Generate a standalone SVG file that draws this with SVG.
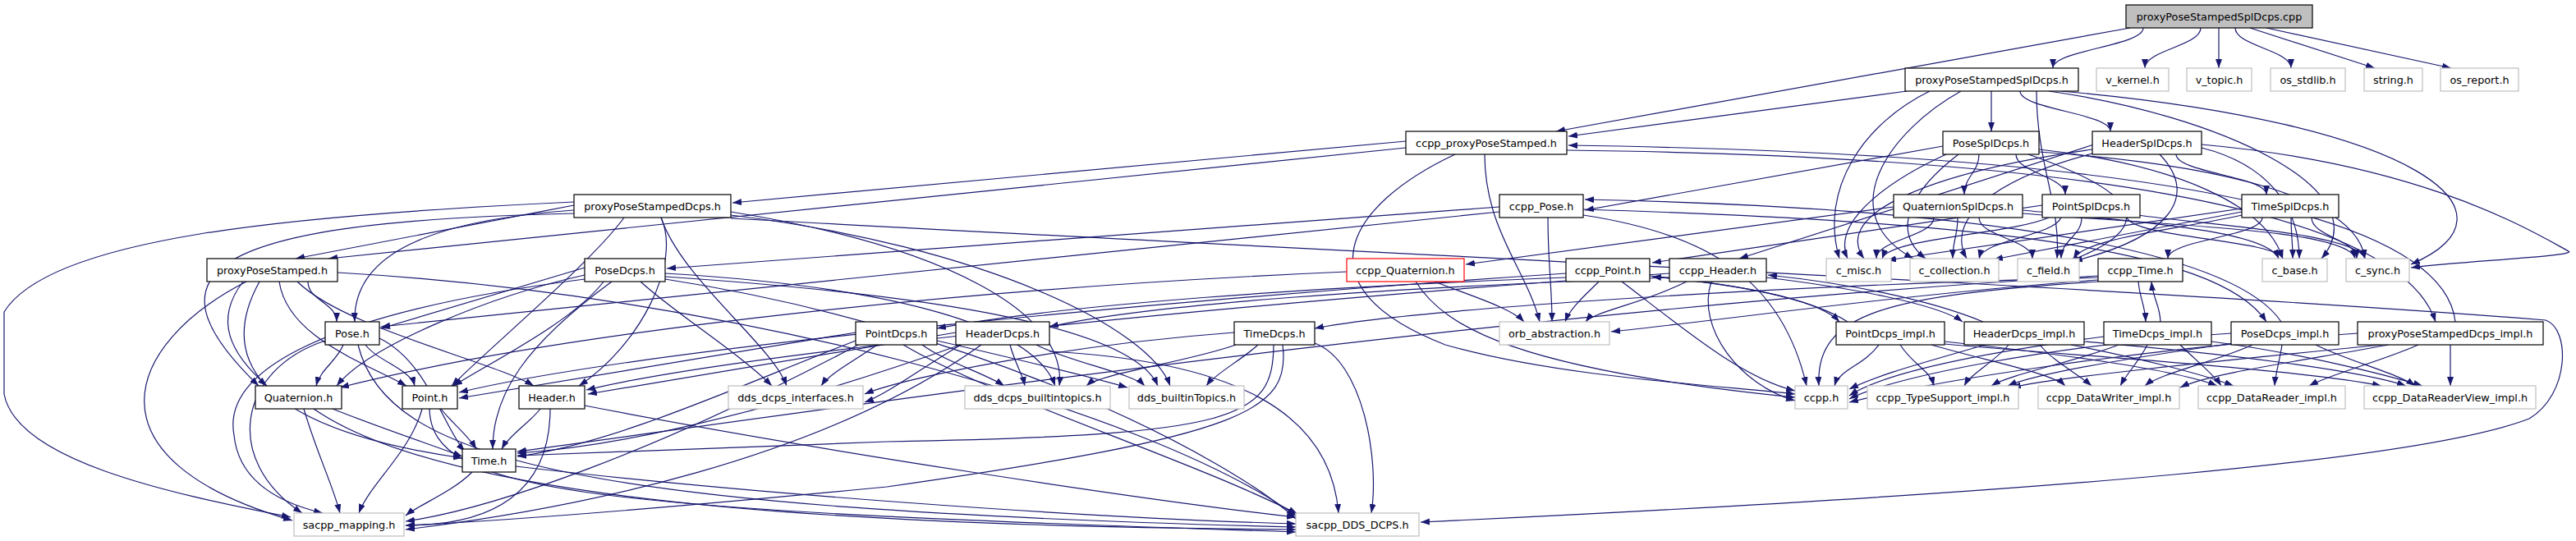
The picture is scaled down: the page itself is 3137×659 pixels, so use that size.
<svg xmlns="http://www.w3.org/2000/svg" width="3137" height="659" viewBox="0 0 3137 659">
<style>
rect{fill:#fff;stroke:#000;stroke-width:1.2}
.u rect{stroke:#bfbfbf}
.r rect{stroke:#f00}
.root rect{fill:#bfbfbf}
text{font-family:"DejaVu Sans","Liberation Sans",sans-serif;font-size:12.8px;text-anchor:middle;fill:#000}
#edges path{fill:none;stroke:#191970;stroke-width:1.2;marker-end:url(#a)}
</style>
<defs>
<marker id="a" viewBox="0 0 11 8" refX="11" refY="4" markerWidth="11" markerHeight="8" markerUnits="userSpaceOnUse" orient="auto"><path d="M0,0L11,4L0,8z" fill="#191970"/></marker>
</defs>
<rect x="0" y="0" width="3137" height="659" style="fill:#fff;stroke:none"/>
<g id="edges">
<path d="M2610 34C2610 56 2500 61 2500 83"/>
<path d="M2594 34L1895 160"/>
<path d="M2680 34C2680 56 2612 61 2612 83"/>
<path d="M2702 34L2702 83"/>
<path d="M2722 34C2722 56 2790 61 2790 83"/>
<path d="M2740 34L2892 83"/>
<path d="M2760 34L2985 83"/>
<path d="M2322 111L1910 166"/>
<path d="M2350 111C2270 150 2215 230 2240 315"/>
<path d="M2388 111C2300 160 2230 260 2330 315"/>
<path d="M2425 111L2425 160"/>
<path d="M2460 111C2460 133 2570 138 2570 160"/>
<path d="M2495 111C2700 140 2900 230 2827 315"/>
<path d="M2510 111C2950 150 3080 260 2936 322"/>
<path d="M2480 111C2480 200 2510 250 2505 315"/>
<path d="M2366 178L1930 256"/>
<path d="M2410 188C2410 210 2392 215 2392 237"/>
<path d="M2455 188C2455 210 2515 215 2515 237"/>
<path d="M2370 188C2300 220 2230 270 2250 315"/>
<path d="M2385 188C2330 230 2300 280 2345 315"/>
<path d="M2470 188C2620 240 2620 280 2520 318"/>
<path d="M2483 182C2650 200 2760 250 2780 315"/>
<path d="M2483 185C2700 200 2870 240 2880 315"/>
<path d="M2550 176L2118 315"/>
<path d="M2650 188C2650 210 2760 215 2760 237"/>
<path d="M2548 182C2350 210 2230 260 2270 315"/>
<path d="M2552 186C2420 220 2370 270 2395 315"/>
<path d="M2630 188C2680 240 2640 290 2525 318"/>
<path d="M2681 180C2760 200 2800 250 2800 315"/>
<path d="M2681 176C2950 200 3080 280 3128 306C3140 312 3000 318 2936 326"/>
<path d="M2306 252L1785 322"/>
<path d="M2355 265C2355 288 2285 292 2285 315"/>
<path d="M2384 265C2384 288 2378 292 2378 315"/>
<path d="M2410 265C2410 288 2475 292 2475 315"/>
<path d="M2463 256C2600 270 2760 280 2775 315"/>
<path d="M2463 260C2650 275 2860 280 2868 315"/>
<path d="M2487 250L2012 320"/>
<path d="M2495 265C2450 285 2300 290 2292 315"/>
<path d="M2510 265C2500 288 2415 292 2410 315"/>
<path d="M2535 265C2535 288 2510 292 2510 315"/>
<path d="M2590 265C2600 290 2770 292 2780 315"/>
<path d="M2603 262C2700 275 2870 285 2880 315"/>
<path d="M2755 265C2755 288 2640 292 2640 315"/>
<path d="M2790 265C2790 288 2792 292 2792 315"/>
<path d="M2815 265C2815 288 2870 292 2870 315"/>
<path d="M2730 254L2298 317"/>
<path d="M2730 258L2428 316"/>
<path d="M2730 262C2650 280 2540 290 2525 315"/>
<path d="M1712 172L892 247"/>
<path d="M1712 180L400 315"/>
<path d="M1808 188C1808 280 1860 330 1875 392"/>
<path d="M1772 188C1640 250 1580 350 1760 420C1900 460 2100 470 2186 480"/>
<path d="M1908 183C2500 190 2920 250 2966 392"/>
<path d="M2990 392C2980 300 2800 190 1910 177"/>
<path d="M1826 252L812 327"/>
<path d="M1826 258L464 398"/>
<path d="M1885 265C1885 320 1890 350 1890 392"/>
<path d="M1928 262C2080 285 2170 340 2200 470"/>
<path d="M1928 255C2400 270 2700 300 2760 392"/>
<path d="M2778 392C2730 320 2500 255 1930 243"/>
<path d="M375 343C375 366 410 369 410 392"/>
<path d="M296 343C260 390 280 430 325 470"/>
<path d="M340 343C350 410 440 440 495 470"/>
<path d="M362 343C420 400 600 440 650 470"/>
<path d="M316 343C268 430 300 520 563 558"/>
<path d="M300 343C150 420 100 560 356 634"/>
<path d="M411 332C900 360 1400 500 1578 628"/>
<path d="M699 250L360 315"/>
<path d="M699 256C500 270 430 320 432 392"/>
<path d="M699 260C250 270 170 330 315 470"/>
<path d="M760 265C720 320 600 420 550 470"/>
<path d="M805 265C830 320 780 420 705 470"/>
<path d="M805 265C830 340 940 420 958 470"/>
<path d="M890 258C1150 300 1300 380 1290 470"/>
<path d="M890 262C1200 300 1400 400 1425 470"/>
<path d="M699 246C350 262 60 290 5 380L5 480C20 560 200 600 354 630"/>
<path d="M890 266C1500 300 2600 350 3100 390C3130 400 3130 480 3080 510C2950 560 2500 600 1730 636"/>
<path d="M712 326L464 400"/>
<path d="M712 335C600 360 450 420 410 470"/>
<path d="M735 343C700 390 600 440 552 470"/>
<path d="M745 343C640 420 600 480 600 547"/>
<path d="M780 343C820 380 900 430 940 470"/>
<path d="M810 333C1100 350 1260 400 1285 470"/>
<path d="M810 337C1150 360 1380 400 1410 470"/>
<path d="M712 340C400 380 270 450 285 530C290 580 330 610 393 625"/>
<path d="M810 340C1200 400 1500 560 1578 632"/>
<path d="M418 420C410 440 390 450 385 470"/>
<path d="M445 420C460 440 500 450 505 470"/>
<path d="M462 412C520 440 540 520 566 550"/>
<path d="M396 415C290 450 270 560 368 625"/>
<path d="M436 420C470 560 700 620 1578 642"/>
<path d="M370 498C385 550 405 590 414 625"/>
<path d="M405 498C460 520 520 540 563 556"/>
<path d="M382 498C500 580 800 640 1578 645"/>
<path d="M514 498C500 550 450 590 437 625"/>
<path d="M537 498C550 515 570 530 580 547"/>
<path d="M523 498C525 600 700 620 1578 648"/>
<path d="M658 498C645 515 620 530 611 547"/>
<path d="M670 498C670 600 600 640 494 640"/>
<path d="M712 494C1000 550 1400 610 1578 630"/>
<path d="M575 575C550 600 510 615 494 628"/>
<path d="M628 568C900 600 1300 630 1578 638"/>
<path d="M1042 405L559 485"/>
<path d="M1042 415C900 470 750 540 630 556"/>
<path d="M1068 420C1040 440 1010 455 1000 470"/>
<path d="M1123 420C1150 440 1200 455 1223 470"/>
<path d="M1141 415C1250 440 1330 460 1373 472"/>
<path d="M1045 420C800 550 600 620 494 635"/>
<path d="M1100 420C1200 480 1450 560 1580 626"/>
<path d="M1164 405L716 480"/>
<path d="M1170 420C1000 480 800 540 630 552"/>
<path d="M1170 420C1120 450 1080 480 1053 490"/>
<path d="M1230 420C1235 440 1245 455 1248 470"/>
<path d="M1262 420C1300 440 1380 455 1394 470"/>
<path d="M1195 420C1000 560 700 620 494 645"/>
<path d="M1278 428C1500 440 1620 500 1630 625"/>
<path d="M1551 420C1550 510 1510 530 1080 538C900 545 700 552 630 555"/>
<path d="M1503 405C1300 420 1100 460 1053 480"/>
<path d="M1505 420C1450 440 1340 455 1323 470"/>
<path d="M1532 420C1510 440 1480 455 1469 470"/>
<path d="M1562 420C1572 500 1520 530 1080 593C800 620 600 635 494 640"/>
<path d="M1601 418C1660 440 1680 560 1670 625"/>
<path d="M1747 343C1790 360 1840 375 1856 392"/>
<path d="M1724 343C1760 400 1850 450 2186 484"/>
<path d="M1640 331C1200 350 700 400 414 472"/>
<path d="M1947 343C1930 360 1912 375 1906 392"/>
<path d="M1975 343C2050 400 2120 460 2186 476"/>
<path d="M1907 333C1500 360 800 420 559 478"/>
<path d="M1907 338C1600 350 1300 370 1141 400"/>
<path d="M2009 336C2150 350 2220 370 2240 392"/>
<path d="M2250 392C2200 360 2100 345 2012 337"/>
<path d="M2054 343C2000 370 1940 380 1931 392"/>
<path d="M2084 343C2065 400 2120 470 2186 488"/>
<path d="M2033 333C1500 370 900 430 714 475"/>
<path d="M2033 338C1700 350 1400 370 1278 398"/>
<path d="M2151 338C2250 350 2360 370 2390 392"/>
<path d="M2415 392C2350 365 2250 345 2153 335"/>
<path d="M2555 341C2300 360 2100 390 1962 404"/>
<path d="M2555 343C2300 360 2210 380 2215 470"/>
<path d="M2555 336C1800 380 1000 500 630 550"/>
<path d="M2555 338C2100 350 1700 380 1601 400"/>
<path d="M2604 343C2606 365 2612 370 2613 392"/>
<path d="M2631 392C2630 370 2622 365 2620 343"/>
<path d="M2288 420C2270 445 2240 450 2234 470"/>
<path d="M2314 420C2330 445 2350 450 2355 470"/>
<path d="M2352 420C2420 440 2500 455 2515 470"/>
<path d="M2368 416C2500 430 2650 450 2700 470"/>
<path d="M2368 419C2550 435 2800 450 2900 470"/>
<path d="M2417 420C2350 440 2290 455 2252 474"/>
<path d="M2446 420C2430 440 2400 455 2392 470"/>
<path d="M2484 420C2500 440 2530 455 2547 470"/>
<path d="M2522 420C2600 435 2680 455 2720 470"/>
<path d="M2538 416C2700 430 2870 450 2930 470"/>
<path d="M2562 410C2450 425 2300 450 2252 482"/>
<path d="M2580 420C2530 440 2450 455 2425 470"/>
<path d="M2615 420C2605 440 2590 455 2582 470"/>
<path d="M2655 420C2675 440 2695 455 2705 470"/>
<path d="M2693 416C2800 430 2900 455 2950 470"/>
<path d="M2717 406C2500 420 2300 460 2252 486"/>
<path d="M2720 418C2600 435 2480 455 2445 470"/>
<path d="M2743 420C2700 440 2630 455 2612 470"/>
<path d="M2779 420C2776 440 2771 455 2770 470"/>
<path d="M2820 420C2860 440 2920 455 2941 470"/>
<path d="M2871 406C2600 425 2350 465 2252 490"/>
<path d="M2900 420C2700 440 2500 460 2450 472"/>
<path d="M2909 420C2800 440 2690 455 2655 472"/>
<path d="M2945 420C2900 440 2840 455 2812 470"/>
<path d="M2984 420L2984 470"/>
</g>
<g id="cpp" class="n root"><rect x="2589" y="6" width="227" height="28"/><text x="2702.5" y="25">proxyPoseStampedSplDcps.cpp</text></g>
<g id="splh" class="n"><rect x="2320" y="83" width="211" height="28"/><text x="2425.5" y="102">proxyPoseStampedSplDcps.h</text></g>
<g id="vkernel" class="u"><rect x="2553" y="83" width="88" height="28"/><text x="2597" y="102">v_kernel.h</text></g>
<g id="vtopic" class="u"><rect x="2663" y="83" width="79" height="28"/><text x="2702.5" y="102">v_topic.h</text></g>
<g id="osstdlib" class="u"><rect x="2765" y="83" width="91" height="28"/><text x="2810.5" y="102">os_stdlib.h</text></g>
<g id="string" class="u"><rect x="2879" y="83" width="71" height="28"/><text x="2914.5" y="102">string.h</text></g>
<g id="osreport" class="u"><rect x="2972" y="83" width="95" height="28"/><text x="3019.5" y="102">os_report.h</text></g>
<g id="ccppPPS" class="n"><rect x="1712" y="160" width="196" height="28"/><text x="1810" y="179">ccpp_proxyPoseStamped.h</text></g>
<g id="poseSpl" class="n"><rect x="2366" y="160" width="117" height="28"/><text x="2424.5" y="179">PoseSplDcps.h</text></g>
<g id="headerSpl" class="n"><rect x="2548" y="160" width="133" height="28"/><text x="2614.5" y="179">HeaderSplDcps.h</text></g>
<g id="ppsDcps" class="n"><rect x="699" y="237" width="191" height="28"/><text x="794.5" y="256">proxyPoseStampedDcps.h</text></g>
<g id="ccppPose" class="n"><rect x="1826" y="237" width="102" height="28"/><text x="1877" y="256">ccpp_Pose.h</text></g>
<g id="quatSpl" class="n"><rect x="2306" y="237" width="157" height="28"/><text x="2384.5" y="256">QuaternionSplDcps.h</text></g>
<g id="pointSpl" class="n"><rect x="2487" y="237" width="119" height="28"/><text x="2546.5" y="256">PointSplDcps.h</text></g>
<g id="timeSpl" class="n"><rect x="2730" y="237" width="118" height="28"/><text x="2789" y="256">TimeSplDcps.h</text></g>
<g id="pps" class="n"><rect x="252" y="315" width="159" height="28"/><text x="331.5" y="334">proxyPoseStamped.h</text></g>
<g id="poseDcps" class="n"><rect x="712" y="315" width="98" height="28"/><text x="761" y="334">PoseDcps.h</text></g>
<g id="ccppQuat" class="r"><rect x="1640" y="315" width="143" height="28"/><text x="1711.5" y="334">ccpp_Quaternion.h</text></g>
<g id="ccppPoint" class="n"><rect x="1907" y="315" width="102" height="28"/><text x="1958" y="334">ccpp_Point.h</text></g>
<g id="ccppHeader" class="n"><rect x="2033" y="315" width="118" height="28"/><text x="2092" y="334">ccpp_Header.h</text></g>
<g id="cmisc" class="u"><rect x="2224" y="315" width="79" height="28"/><text x="2263.5" y="334">c_misc.h</text></g>
<g id="ccoll" class="u"><rect x="2326" y="315" width="108" height="28"/><text x="2380" y="334">c_collection.h</text></g>
<g id="cfield" class="u"><rect x="2457" y="315" width="75" height="28"/><text x="2494.5" y="334">c_field.h</text></g>
<g id="ccppTime" class="n"><rect x="2555" y="315" width="103" height="28"/><text x="2606.5" y="334">ccpp_Time.h</text></g>
<g id="cbase" class="u"><rect x="2755" y="315" width="79" height="28"/><text x="2794.5" y="334">c_base.h</text></g>
<g id="csync" class="u"><rect x="2857" y="315" width="77" height="28"/><text x="2895.5" y="334">c_sync.h</text></g>
<g id="pose" class="n"><rect x="396" y="392" width="66" height="28"/><text x="429" y="411">Pose.h</text></g>
<g id="pointDcps" class="n"><rect x="1042" y="392" width="99" height="28"/><text x="1091.5" y="411">PointDcps.h</text></g>
<g id="headerDcps" class="n"><rect x="1164" y="392" width="114" height="28"/><text x="1221" y="411">HeaderDcps.h</text></g>
<g id="timeDcps" class="n"><rect x="1503" y="392" width="98" height="28"/><text x="1552" y="411">TimeDcps.h</text></g>
<g id="orb" class="u"><rect x="1826" y="392" width="134" height="28"/><text x="1893" y="411">orb_abstraction.h</text></g>
<g id="pointImpl" class="n"><rect x="2236" y="392" width="132" height="28"/><text x="2302" y="411">PointDcps_impl.h</text></g>
<g id="headerImpl" class="n"><rect x="2392" y="392" width="146" height="28"/><text x="2465" y="411">HeaderDcps_impl.h</text></g>
<g id="timeImpl" class="n"><rect x="2562" y="392" width="131" height="28"/><text x="2627.5" y="411">TimeDcps_impl.h</text></g>
<g id="poseImpl" class="n"><rect x="2717" y="392" width="131" height="28"/><text x="2782.5" y="411">PoseDcps_impl.h</text></g>
<g id="ppsImpl" class="n"><rect x="2871" y="392" width="226" height="28"/><text x="2984" y="411">proxyPoseStampedDcps_impl.h</text></g>
<g id="quat" class="n"><rect x="311" y="470" width="105" height="28"/><text x="363.5" y="489">Quaternion.h</text></g>
<g id="point" class="n"><rect x="490" y="470" width="67" height="28"/><text x="523.5" y="489">Point.h</text></g>
<g id="header" class="n"><rect x="632" y="470" width="80" height="28"/><text x="672" y="489">Header.h</text></g>
<g id="ddsIf" class="u"><rect x="887" y="470" width="164" height="28"/><text x="969" y="489">dds_dcps_interfaces.h</text></g>
<g id="ddsBuiltin" class="u"><rect x="1175" y="470" width="177" height="28"/><text x="1263.5" y="489">dds_dcps_builtintopics.h</text></g>
<g id="ddsBT" class="u"><rect x="1375" y="470" width="140" height="28"/><text x="1445" y="489">dds_builtinTopics.h</text></g>
<g id="ccpph" class="u"><rect x="2186" y="470" width="64" height="28"/><text x="2218" y="489">ccpp.h</text></g>
<g id="typeSupport" class="u"><rect x="2274" y="470" width="184" height="28"/><text x="2366" y="489">ccpp_TypeSupport_impl.h</text></g>
<g id="dataWriter" class="u"><rect x="2482" y="470" width="172" height="28"/><text x="2568" y="489">ccpp_DataWriter_impl.h</text></g>
<g id="dataReader" class="u"><rect x="2677" y="470" width="179" height="28"/><text x="2766.5" y="489">ccpp_DataReader_impl.h</text></g>
<g id="dataReaderView" class="u"><rect x="2879" y="470" width="209" height="28"/><text x="2983.5" y="489">ccpp_DataReaderView_impl.h</text></g>
<g id="time" class="n"><rect x="563" y="547" width="65" height="28"/><text x="595.5" y="566">Time.h</text></g>
<g id="sacppMap" class="u"><rect x="358" y="625" width="134" height="28"/><text x="425" y="644">sacpp_mapping.h</text></g>
<g id="sacppDDS" class="u"><rect x="1578" y="625" width="150" height="28"/><text x="1653" y="644">sacpp_DDS_DCPS.h</text></g>
</svg>
